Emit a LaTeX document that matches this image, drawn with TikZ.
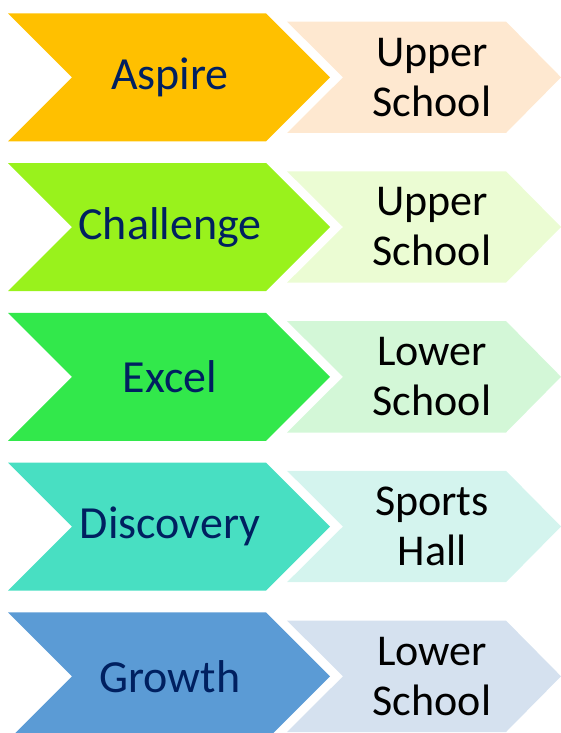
\documentclass[tikz,border=0pt]{standalone}
\usepackage{fontspec}
\setmainfont{Carlito}
\usepackage{tikz}

\definecolor{navytext}{HTML}{002060}
\definecolor{aspirecol}{HTML}{FFC000}
\definecolor{aspirelight}{HTML}{FEE8D0}
\definecolor{challengecol}{HTML}{99F21C}
\definecolor{challengelight}{HTML}{EBFCD3}
\definecolor{excelcol}{HTML}{32E84B}
\definecolor{excellight}{HTML}{D3F7D7}
\definecolor{discoverycol}{HTML}{48DFC2}
\definecolor{discoverylight}{HTML}{D4F4EE}
\definecolor{growthcol}{HTML}{5B9BD5}
\definecolor{growthlight}{HTML}{D5E1EF}

\begin{document}
\begin{tikzpicture}[x=1pt, y=-1pt,
    house/.style={text=navytext, font=\fontsize{46}{46}\selectfont},
    place/.style={text=black, align=center, font=\fontsize{44}{50}\selectfont}]
    \useasboundingbox (0,0) rectangle (561,733);

    % Aspire -> Upper School
    \fill[aspirelight] (287,21.6) -- (506,21.6) -- (561,77.3) -- (506,133) -- (287,133) -- (343,77.3) -- cycle;
    \fill[aspirecol] (8,13.3) -- (266,13.3) -- (330,77.3) -- (266,141.3) -- (8,141.3) -- (72,77.3) -- cycle;
    \node[house] (aspire) at (170,77.3) {Aspire};
    \node[place] (aspireroom) at (432,77.3) {Upper\\School};

    % Challenge -> Upper School
    \fill[challengelight] (287,171.3) -- (506,171.3) -- (561,227) -- (506,282.7) -- (287,282.7) -- (343,227) -- cycle;
    \fill[challengecol] (8,163) -- (266,163) -- (330,227) -- (266,291) -- (8,291) -- (72,227) -- cycle;
    \node[house] (challenge) at (170,227) {Challenge};
    \node[place] (challengeroom) at (432,227) {Upper\\School};

    % Excel -> Lower School
    \fill[excellight] (287,321.1) -- (506,321.1) -- (561,376.8) -- (506,432.5) -- (287,432.5) -- (343,376.8) -- cycle;
    \fill[excelcol] (8,312.8) -- (266,312.8) -- (330,376.8) -- (266,440.8) -- (8,440.8) -- (72,376.8) -- cycle;
    \node[house] (excel) at (170,376.8) {Excel};
    \node[place] (excelroom) at (432,376.8) {Lower\\School};

    % Discovery -> Sports Hall
    \fill[discoverylight] (287,470.8) -- (506,470.8) -- (561,526.5) -- (506,582.2) -- (287,582.2) -- (343,526.5) -- cycle;
    \fill[discoverycol] (8,462.5) -- (266,462.5) -- (330,526.5) -- (266,590.5) -- (8,590.5) -- (72,526.5) -- cycle;
    \node[house] (discovery) at (170,526.5) {Discovery};
    \node[place] (discoveryroom) at (432,526.5) {Sports\\Hall};

    % Growth -> Lower School
    \fill[growthlight] (287,620.6) -- (506,620.6) -- (561,676.3) -- (506,732) -- (287,732) -- (343,676.3) -- cycle;
    \fill[growthcol] (8,612.3) -- (266,612.3) -- (330,676.3) -- (266,740.3) -- (8,740.3) -- (72,676.3) -- cycle;
    \node[house] (growth) at (170,676.3) {Growth};
    \node[place] (growthroom) at (432,676.3) {Lower\\School};
\end{tikzpicture}
\end{document}
